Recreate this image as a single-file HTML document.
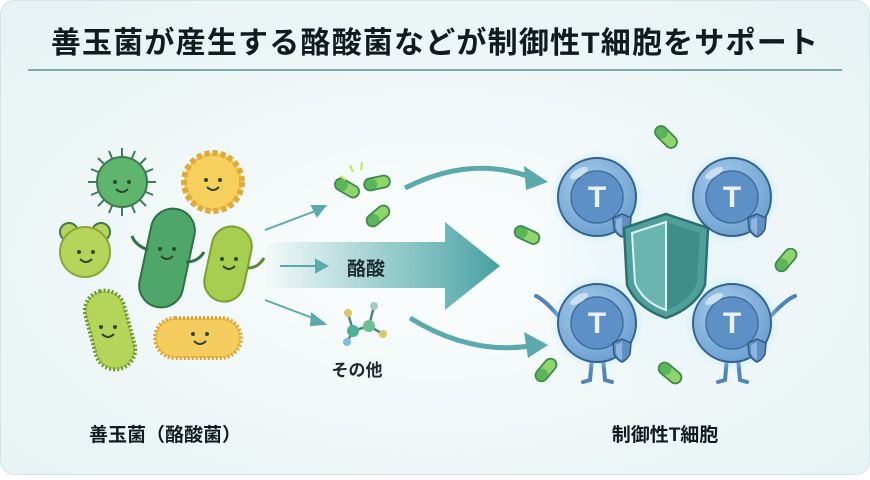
<!DOCTYPE html>
<html><head><meta charset="utf-8"><style>
html,body{margin:0;padding:0;background:#fff}
body{width:870px;height:475px;overflow:hidden;font-family:"Liberation Sans","Noto Sans CJK JP",sans-serif}
</style></head><body>
<svg width="870" height="475" viewBox="0 0 870 475" xmlns="http://www.w3.org/2000/svg" font-family="Liberation Sans, Noto Sans CJK JP, sans-serif">
<defs>
<radialGradient id="bg" cx="0.5" cy="0.55" r="0.7"><stop offset="0" stop-color="#fbfdfd"/><stop offset="1" stop-color="#e6f2f3"/></radialGradient>
<linearGradient id="arr" x1="0" x2="1"><stop offset="0" stop-color="#5fb0b0" stop-opacity="0"/><stop offset="0.5" stop-color="#5fb0b0" stop-opacity="0.6"/><stop offset="1" stop-color="#46a0a2"/></linearGradient>
<radialGradient id="glow" cx="0.5" cy="0.5" r="0.5"><stop offset="0.6" stop-color="#9fdcf5" stop-opacity="0.8"/><stop offset="1" stop-color="#c9eefa" stop-opacity="0"/></radialGradient>
<radialGradient id="big" cx="0.5" cy="0.5" r="0.5"><stop offset="0" stop-color="#dff3f9" stop-opacity="0.8"/><stop offset="1" stop-color="#e6f4f6" stop-opacity="0"/></radialGradient>
<radialGradient id="tc" cx="0.4" cy="0.35" r="0.7"><stop offset="0" stop-color="#a9cdec"/><stop offset="1" stop-color="#6a9fd0"/></radialGradient>
<g id="pill"><rect x="-13" y="-6" width="26" height="12" rx="6" fill="#8fd46c" stroke="#3d8a4a" stroke-width="1.6"/><rect x="-13" y="-6" width="13" height="12" rx="6" fill="#5bb55a" stroke="none"/><rect x="-13" y="-6" width="26" height="12" rx="6" fill="none" stroke="#3d8a4a" stroke-width="1.6"/></g>
<g id="sh"><path d="M0,-11 L9,-7 L8,4 Q5,10 0,12 Q-5,10 -8,4 L-9,-7 Z" fill="#5f8fc4" stroke="#2f5a85" stroke-width="1.5"/><path d="M0,-8 L0,10 Q-4,8 -6,3 L-6,-5 Z" fill="#8fb5dd"/></g>
<g id="tcell"><circle r="48" fill="url(#glow)"/><circle r="39" fill="url(#tc)" stroke="#34628e" stroke-width="2"/><circle r="26" fill="#5d90c6" stroke="#3e6f9f" stroke-width="1.5"/><text x="0" y="10" text-anchor="middle" font-size="30" font-weight="bold" fill="#eaf3fb">T</text><ellipse cx="-18" cy="-24" rx="10" ry="4" fill="#fff" opacity="0.5" transform="rotate(-30 -18 -24)"/></g>
<g id="face"><circle cx="-7" cy="-3" r="2" fill="#2d4a2a"/><circle cx="7" cy="-3" r="2" fill="#2d4a2a"/><path d="M-6,4 Q0,10 6,4" fill="none" stroke="#2d4a2a" stroke-width="2"/></g>
</defs>
<rect x="0.5" y="0.5" width="869" height="474" rx="14" fill="url(#bg)" stroke="#d5e3e5"/>
<text x="435" y="53" text-anchor="middle" font-size="30" font-weight="bold" letter-spacing="1.2" fill="#111a1e">善玉菌が産生する酪酸菌などが制御性T細胞をサポート</text>
<line x1="28" y1="70" x2="842" y2="70" stroke="#5a8f92" stroke-width="1.5"/>

<!-- left bacteria -->
<g stroke="#3f7a4e" stroke-width="2">
<g stroke="#3d7d55" stroke-width="2">
<line x1="122" y1="148" x2="122" y2="216"/><line x1="88" y1="182" x2="156" y2="182"/><line x1="98" y1="158" x2="146" y2="206"/><line x1="146" y1="158" x2="98" y2="206"/>
<line x1="109" y1="151" x2="135" y2="213"/><line x1="135" y1="151" x2="109" y2="213"/><line x1="91" y1="169" x2="153" y2="195"/><line x1="91" y1="195" x2="153" y2="169"/>
</g>
<circle cx="122" cy="182" r="25" fill="#5fb56e"/>
<circle cx="213" cy="182" r="29" fill="#f2c84a" stroke="#e0a93a" stroke-dasharray="5 3" stroke-width="6"/>
<circle cx="213" cy="182" r="26" fill="#f7cf5c" stroke="none"/>
<circle cx="69" cy="232" r="9" fill="#b4d45a"/><circle cx="101" cy="232" r="9" fill="#b4d45a"/>
<circle cx="85" cy="252" r="25" fill="#b4d45a" stroke="#8aa53a"/>
<rect x="145" y="208" width="44" height="100" rx="22" fill="#4fa66a" transform="rotate(12 167 258)" stroke="#2f7045"/>
<path d="M148,250 Q135,245 132,236 M186,262 Q198,262 204,252" fill="none" stroke="#2f7045" stroke-width="3"/>
<rect x="208" y="226" width="40" height="76" rx="20" fill="#a6cf4f" transform="rotate(12 228 264)" stroke="#7aa033"/>
<path d="M248,268 Q258,268 264,258" fill="none" stroke="#5a8a33" stroke-width="3"/>
<rect x="90" y="290" width="40" height="80" rx="20" fill="#b0d25a" transform="rotate(-15 110 330)" stroke="#6e9a2f" stroke-dasharray="2 2" stroke-width="4"/>
<rect x="92" y="292" width="36" height="76" rx="18" fill="#b4d45a" transform="rotate(-15 110 330)" stroke="none"/>
<rect x="155" y="318" width="86" height="40" rx="20" fill="#f0c24e" stroke="#dba63a" stroke-dasharray="2 2" stroke-width="4"/>
<rect x="157" y="320" width="82" height="36" rx="18" fill="#f5cc5e" stroke="none"/>
</g>
<use href="#face" x="122" y="185"/><use href="#face" x="213" y="183"/><use href="#face" x="86" y="255"/><use href="#face" x="167" y="252"/><use href="#face" x="229" y="262"/><use href="#face" x="108" y="330"/><use href="#face" x="200" y="337"/>

<!-- middle arrows -->
<path d="M265,242 L445,242 L445,222 L500,266 L445,310 L445,288 L265,288 Z" fill="url(#arr)"/>
<text x="366" y="275" text-anchor="middle" font-size="19" font-weight="bold" fill="#1b2a2f">酪酸</text>
<g stroke="#5aa9ad" stroke-width="2" fill="#5aa9ad">
<line x1="265" y1="230" x2="318" y2="210"/><path d="M325,206 L312,206 L317,216 Z"/>
<line x1="280" y1="266" x2="320" y2="266"/><path d="M327,266 L316,260 L316,272 Z"/>
<line x1="265" y1="300" x2="318" y2="320"/><path d="M325,324 L312,314 L311,325 Z"/>
</g>
<g fill="none" stroke="#5aa9ad" stroke-width="5">
<path d="M405,188 Q470,155 530,177"/><path d="M410,318 Q470,355 530,346"/>
</g>
<path d="M548,182 L524,166 L526,190 Z" fill="#5aa9ad"/><path d="M548,345 L524,332 L528,358 Z" fill="#5aa9ad"/>
<use href="#pill" transform="translate(347,188) rotate(30)"/><use href="#pill" transform="translate(377,183) rotate(-12)"/><use href="#pill" transform="translate(378,216) rotate(-40)"/>
<g stroke="#d2df5a" stroke-width="2"><line x1="340" y1="176" x2="346" y2="180"/><line x1="350" y1="165" x2="353" y2="172"/><line x1="362" y1="162" x2="361" y2="170"/></g>
<g stroke="#4a8a80" stroke-width="2.5"><line x1="348" y1="313" x2="353" y2="331"/><line x1="353" y1="331" x2="369" y2="326"/><line x1="369" y1="326" x2="374" y2="306"/><line x1="369" y1="326" x2="383" y2="334"/><line x1="353" y1="331" x2="347" y2="342"/></g>
<circle cx="348" cy="313" r="4" fill="#d9c86a"/><circle cx="353" cy="331" r="6" fill="#4fb09a"/><circle cx="369" cy="326" r="6" fill="#6cc08e"/><circle cx="374" cy="306" r="4" fill="#a9c8c0"/><circle cx="383" cy="334" r="4" fill="#d9c86a"/><circle cx="347" cy="342" r="4" fill="#7fbde0"/>
<text x="357" y="376" text-anchor="middle" font-size="17" font-weight="bold" fill="#1b2a2f">その他</text>

<!-- right T cells -->
<circle cx="665" cy="262" r="140" fill="url(#big)"/>
<g fill="none" stroke="#4f84b8" stroke-width="4" stroke-linecap="round">
<path d="M562,320 Q545,300 536,296"/><path d="M767,320 Q785,300 795,296"/>
<path d="M592,358 L590,380 L583,382 M603,358 L605,380 L612,382"/><path d="M727,358 L725,380 L718,382 M738,358 L740,380 L747,382"/>
</g>
<use href="#tcell" x="597" y="197"/><use href="#tcell" x="732" y="197"/><use href="#tcell" x="597" y="323"/><use href="#tcell" x="732" y="323"/>
<use href="#sh" x="622" y="225"/><use href="#sh" x="757" y="225"/><use href="#sh" x="622" y="350"/><use href="#sh" x="757" y="350"/>
<path d="M666,214 L708,228 L705,285 Q695,308 666,318 Q637,308 627,285 L624,228 Z" fill="#4fa09c" stroke="#2d6f6e" stroke-width="2.5"/>
<path d="M666,222 L700,233 L697,283 Q689,302 666,310 Z" fill="#3e8f8c"/>
<path d="M666,222 L632,233 L635,283 Q643,302 666,310 Z" fill="#6ab5b0" stroke="#dff3f1" stroke-width="2"/>
<use href="#pill" transform="translate(666,137) rotate(45)"/><use href="#pill" transform="translate(527,235) rotate(25)"/><use href="#pill" transform="translate(786,260) rotate(-50)"/><use href="#pill" transform="translate(546,370) rotate(-50)"/><use href="#pill" transform="translate(670,373) rotate(40)"/>

<text x="165" y="441" text-anchor="middle" font-size="19" font-weight="bold" fill="#111a1e">善玉菌（酪酸菌）</text>
<text x="665" y="441" text-anchor="middle" font-size="19" font-weight="bold" fill="#111a1e">制御性T細胞</text>
</svg>
</body></html>
